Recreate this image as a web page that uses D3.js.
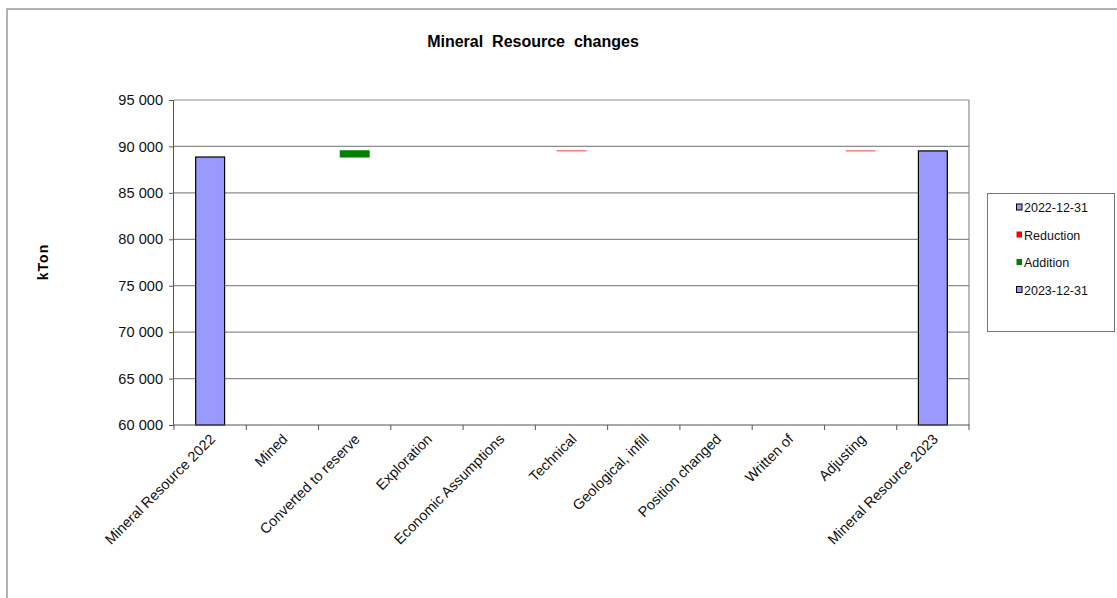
<!DOCTYPE html>
<html><head><meta charset="utf-8">
<script src="https://cdn.jsdelivr.net/npm/d3@7"></script>
<style>
body{margin:0;background:#fff;}
text{font-family:Arial,"Liberation Sans",sans-serif;}
</style></head>
<body><svg id="c" width="1117" height="598"></svg>
<script>
// ---- data ----
const categories = ["Mineral Resource 2022","Mined","Converted to reserve","Exploration","Economic Assumptions","Technical","Geological, infill","Position changed","Written of","Adjusting","Mineral Resource 2023"];
const start2022 = 88860;
const additions = [0,0,670,0,0,0,0,0,0,0,0];
const reductions = [0,0,0,0,0,8,0,0,0,6,0];
const end2023 = 89516;
const yTicks = [60000,65000,70000,75000,80000,85000,90000,95000];
const legendLabels = ["2022-12-31","Reduction","Addition","2023-12-31"];

const svg = d3.select("#c");
const M={left:174,top:100,right:969,bottom:425};

// outer frame
svg.append("rect").attr("x",7).attr("y",9).attr("width",1120).attr("height",600)
  .attr("fill","none").attr("stroke","#9a9a9a").attr("stroke-width",1.5);

const x = d3.scaleBand().domain(categories).range([M.left,M.right]).paddingInner(0).paddingOuter(0);
const y = d3.scaleLinear().domain([60000,95000]).range([M.bottom,M.top]);

// grid
svg.append("g").selectAll("line").data(yTicks.filter(d=>d>60000)).join("line")
  .attr("x1",M.left).attr("x2",M.right).attr("y1",d=>y(d)).attr("y2",d=>y(d))
  .attr("stroke","#8c8c8c").attr("stroke-width",1.2);
svg.append("line").attr("x1",M.right).attr("x2",M.right).attr("y1",M.top).attr("y2",M.bottom)
  .attr("stroke","#8c8c8c").attr("stroke-width",1.2);

// running totals
let level = start2022;
const segs=[];
categories.forEach((c,i)=>{
  if(i===0){segs.push({c,type:"total",lo:60000,hi:start2022});return;}
  if(i===categories.length-1){segs.push({c,type:"total",lo:60000,hi:end2023});return;}
  if(additions[i]>0){segs.push({c,type:"add",lo:level,hi:level+additions[i]});level+=additions[i];}
  if(reductions[i]>0){segs.push({c,type:"red",lo:level-reductions[i],hi:level});level-=reductions[i];}
});
const bw = x.bandwidth()*0.4;
svg.append("g").selectAll("rect").data(segs).join("rect")
  .attr("x",d=>x(d.c)+(x.bandwidth()-bw)/2)
  .attr("width",bw)
  .attr("y",d=>y(d.hi))
  .attr("height",d=>Math.max(0,y(d.lo)-y(d.hi)))
  .attr("fill",d=>d.type==="total"?"#9999ff":d.type==="add"?"#008000":"#ff0000")
  .attr("stroke",d=>d.type==="total"?"#000":d.type==="add"?"#008000":"#ff5050")
  .attr("stroke-width",d=>d.type==="total"?1.2:1);

// y axis
const ya = svg.append("g").attr("transform",`translate(${M.left},0)`)
  .call(d3.axisLeft(y).tickValues(yTicks).tickSize(5).tickPadding(6)
    .tickFormat(d=>d3.format(",")(d).replace(/,/g," ")));
ya.select(".domain").attr("stroke","#555").attr("d",`M-0.5,${M.top}V${M.bottom}`);
ya.selectAll(".tick line").attr("stroke","#555");
ya.selectAll("text").attr("font-size",14.6).attr("fill","#111").attr("font-family","Arial,'Liberation Sans',sans-serif");

// x axis
const xa = svg.append("g").attr("transform",`translate(0,${M.bottom})`);
xa.append("line").attr("x1",M.left).attr("x2",M.right+0.5).attr("y1",0).attr("y2",0).attr("stroke","#555").attr("stroke-width",1.2);
const tickPos = categories.map(c=>x(c)).concat([M.right]);
xa.selectAll("line.t").data(tickPos).join("line").attr("class","t")
  .attr("x1",d=>d).attr("x2",d=>d).attr("y1",0).attr("y2",5).attr("stroke","#555");
xa.selectAll("text").data(categories).join("text")
  .attr("transform",d=>`translate(${x(d)+x.bandwidth()/2+6},${15}) rotate(-45)`)
  .attr("text-anchor","end").attr("font-size",14.4).attr("fill","#111").text(d=>d);

// title
svg.append("text").attr("x",533).attr("y",47).attr("text-anchor","middle")
  .attr("font-size",16).attr("font-weight","bold").style("white-space","pre")
  .text("Mineral  Resource  changes");
// y title
svg.append("text").attr("transform","translate(48,262) rotate(-90)").attr("text-anchor","middle")
  .attr("font-size",14).attr("font-weight","bold").attr("letter-spacing",1).text("kTon");

// legend
const lg = svg.append("g");
lg.append("rect").attr("x",987.5).attr("y",193.5).attr("width",127).attr("height",138)
  .attr("fill","#fff").attr("stroke","#777");
const lgFill=["#9999ff","#ff0000","#008000","#9999ff"];
const lgStroke=["#000","none","none","#000"];
lg.selectAll("g").data(legendLabels).join("g")
  .attr("transform",(d,i)=>`translate(1016,${207.5+i*27.5})`)
  .each(function(d,i){
    const s=d3.select(this);
    s.append("rect").attr("x",0.5).attr("y",-3.5).attr("width",5.5).attr("height",6)
      .attr("fill",lgFill[i]).attr("stroke",lgStroke[i]).attr("stroke-width",1);
    s.append("text").attr("x",8).attr("y",4.5).attr("font-size",12.5).attr("fill","#111").text(d);
  });
</script></body></html>
